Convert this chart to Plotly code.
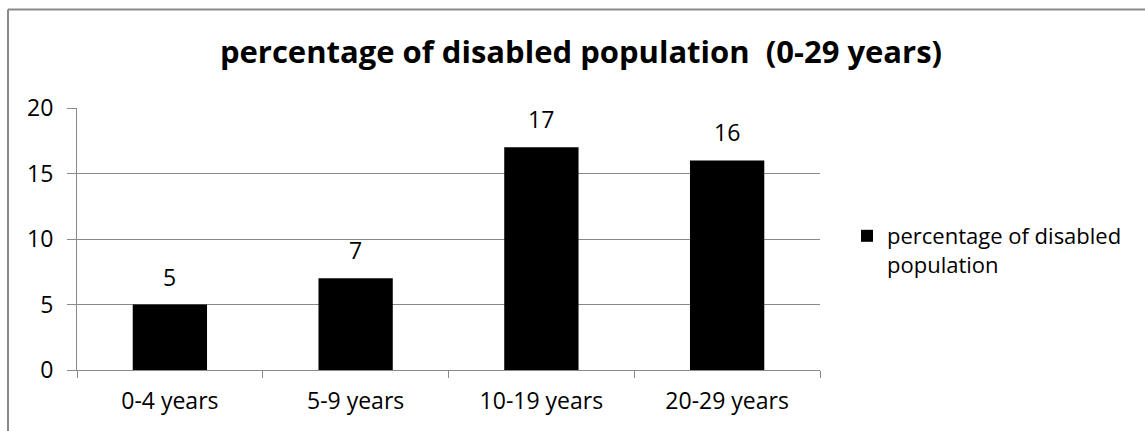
import plotly.graph_objects as go

categories = ["0-4 years", "5-9 years", "10-19 years", "20-29 years"]
values = [5, 7, 17, 16]
series_name = "percentage of disabled<br>population"
title_text = "percentage of disabled population  (0-29 years)"

W, H = 1145, 431
L, R, T, B = 77, 1145 - 820, 108, 431 - 370
FONT = "'Open Sans', Lato, sans-serif"
GRAY = "#898989"
FS = 23

fig = go.Figure()
fig.add_trace(go.Bar(
    x=categories, y=values, name=series_name,
    marker=dict(color="#000000", line=dict(width=0)),
    width=0.4, showlegend=True,
))

for c, v in zip(categories, values):
    fig.add_annotation(x=c, y=v, text=str(v), showarrow=False,
                       yanchor="bottom", yshift=10,
                       font=dict(size=FS, color="#000000", family=FONT))

pw = W - L - R
ph = H - T - B
def px_to_paper_x(px):
    return (px - L) / pw
def px_to_paper_y(py):
    return (H - B - py) / ph

# outer chart border (cropped at right/bottom)
fig.add_shape(type="line", xref="paper", yref="paper",
              x0=px_to_paper_x(8), x1=px_to_paper_x(1150),
              y0=px_to_paper_y(9.5), y1=px_to_paper_y(9.5),
              line=dict(color=GRAY, width=2))
fig.add_shape(type="line", xref="paper", yref="paper",
              x0=px_to_paper_x(8), x1=px_to_paper_x(8),
              y0=px_to_paper_y(9.5), y1=px_to_paper_y(440),
              line=dict(color=GRAY, width=2))

fig.update_layout(
    width=W, height=H,
    margin=dict(l=L, r=R, t=T, b=B, pad=0),
    paper_bgcolor="white", plot_bgcolor="white",
    font=dict(family=FONT, size=FS, color="#000000"),
    title=dict(text="<b>" + title_text + "</b>", x=581 / W,
               xanchor="center", y=1 - 52 / H, yanchor="middle",
               font=dict(size=31, family=FONT, color="#000000")),
    bargap=0.6,
    showlegend=True,
    legend=dict(x=px_to_paper_x(847), xanchor="left", y=px_to_paper_y(215), yanchor="top",
                valign="top",
                font=dict(size=22, family=FONT, color="#000000"),
                bgcolor="rgba(0,0,0,0)", itemsizing="constant"),
    xaxis=dict(type="category", showline=True, linecolor=GRAY, linewidth=1,
               ticks="outside", tickson="boundaries", ticklen=7, tickcolor=GRAY,
               ticklabelstandoff=10,
               showgrid=False, fixedrange=True,
               tickfont=dict(size=FS, family=FONT, color="#000000")),
    yaxis=dict(range=[0, 20], dtick=5, showline=True, linecolor=GRAY, linewidth=1,
               ticks="outside", ticklen=9, tickcolor=GRAY,
               ticklabelstandoff=9,
               showgrid=True, gridcolor=GRAY, gridwidth=1,
               zeroline=False, fixedrange=True,
               tickfont=dict(size=FS, family=FONT, color="#000000")),
)

fig.write_html("out.html")
